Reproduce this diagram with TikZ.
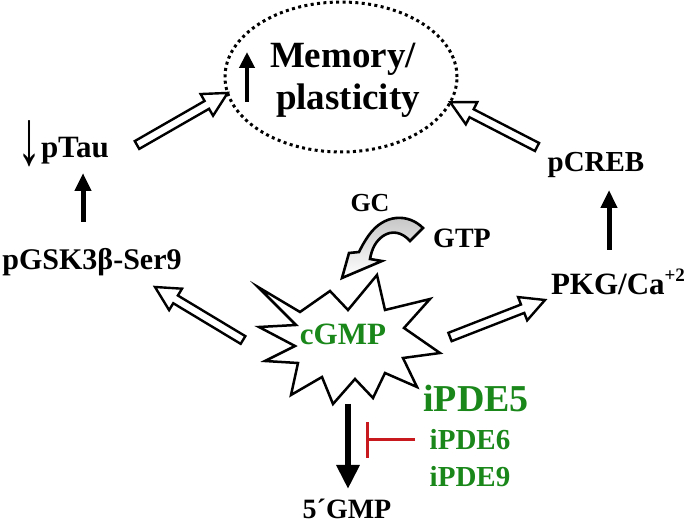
\documentclass[tikz,border=0pt]{standalone}
\usepackage{fontspec}
\setmainfont{Liberation Serif}
\usetikzlibrary{calc,shapes.geometric,arrows.meta}
\definecolor{dgreen}{RGB}{25,135,25}
\definecolor{tred}{RGB}{200,25,30}
\definecolor{agrey}{RGB}{195,195,195}
\tikzset{
  lbl/.style={font=\bfseries\fontsize{#1}{#1}\selectfont, inner sep=0pt, outer sep=0pt},
  glbl/.style={lbl=#1, text=dgreen},
  hollow/.style={draw=black, fill=white, line width=2.4pt, line join=miter},
  blkarrow/.style={line width=#1, -{Triangle[length=18pt,width=16pt]}},
  memell/.style={ellipse, draw, line width=3pt, dash pattern=on 3pt off 3.4pt,
     minimum width=232pt, minimum height=150pt, inner sep=0pt, outer sep=0pt},
  starburst/.style={draw=black, fill=white, line width=2.5pt, line join=miter},
  curvearr/.style={draw=black, line width=2.6pt, line join=miter,
     top color=agrey, middle color=white, bottom color=white},
  inhib/.style={draw=tred, line width=3pt, -{Bar[width=36pt,line width=3pt]}}
}
\newcommand\hollowarr[2]{%
  \coordinate (#1#2h) at ($(#2)!24pt!(#1)$);
  \draw[hollow] ($(#1)!4.5pt!90:(#2)$) -- ($(#1#2h)!4.5pt!90:(#2)$)
     -- ($(#1#2h)!12.5pt!90:(#2)$) -- (#2) -- ($(#1#2h)!12.5pt!-90:(#2)$)
     -- ($(#1#2h)!4.5pt!-90:(#2)$) -- ($(#1)!4.5pt!-90:(#2)$) -- cycle;}
\begin{document}
\begin{tikzpicture}[x=1pt,y=-1pt]
\useasboundingbox[fill=white] (0,0) rectangle (694,526);
% memory ellipse
\node[memell] (mem) at (341,77) {};
\node[lbl=37, anchor=base] (memtxt1) at (343,68) {Memory/};
\node[lbl=37, anchor=base] (memtxt2) at (348,110) {plasticity};
\coordinate (memarrS) at (247,102);
\coordinate (memarrE) at (247,52);
\draw[line width=4.5pt, -{Triangle[length=16pt,width=15pt]}] (memarrS) -- (memarrE);
% left column
\node[lbl=31, anchor=base west] (ptau) at (17,158) {{\fontsize{30}{30}\selectfont\raisebox{-0.22em}{\scalebox{1.6}[2.6]{↓}}}pTau};
\node[lbl=30, anchor=base] (pgsk) at (92,270) {pGSK3β-Ser9};
\coordinate (lupS) at (83,222);
\coordinate (lupE) at (83,173);
\draw[blkarrow=5pt] (lupS) -- (lupE);
% right column
\node[lbl=29, anchor=base] (pcreb) at (596,172) {pCREB};
\node[lbl=31, anchor=base west] (pkg) at (551,295) {PKG/Ca\raisebox{0.42em}{\fontsize{19}{19}\selectfont +2}};
\coordinate (rupS) at (609,250);
\coordinate (rupE) at (609,190);
\draw[blkarrow=5pt] (rupS) -- (rupE);
% upper hollow arrows
\coordinate (tailUL) at (137,145);
\coordinate (tipUL) at (mem.188);
\coordinate (tailUR) at (537,147);
\coordinate (tipUR) at (mem.347);
\hollowarr{tailUL}{tipUL}
\hollowarr{tailUR}{tipUR}
% GC / GTP and curved arrow
\node[lbl=26, anchor=base] (gc) at (370,212) {GC};
\node[lbl=28, anchor=base] (gtp) at (462,248) {GTP};
\draw[curvearr] (423,228) .. controls (408,213) and (384,214) .. (369,235)
   .. controls (364,242) and (361,248) .. (359,252)
   -- (349,253) -- (342,278) -- (382,261) -- (370,259)
   .. controls (372,248) and (376,241) .. (383,236)
   .. controls (392,230) and (402,232) .. (410,241) -- cycle;
% starburst
\draw[starburst] (258,287) -- (300,312) -- (330,291) -- (348,310) -- (377,275)
  -- (385,310) -- (430,299) -- (404,328) -- (440,353) -- (403,358) -- (417,387)
  -- (385,373) -- (373,398) -- (355,379) -- (333,404) -- (322,377) -- (291,395)
  -- (298,363) -- (265,361) -- (295,346) -- (259,327) -- (296,325) -- cycle;
\node[glbl=31, anchor=base] (cgmp) at (343,345) {cGMP};
% lower hollow arrows
\coordinate (tailLL) at (243,340);
\coordinate (tipLL) at (155,287);
\coordinate (tailLR) at (450,337);
\coordinate (tipLR) at (545,300);
\hollowarr{tailLL}{tipLL}
\hollowarr{tailLR}{tipLR}
% degradation
\coordinate (dnS) at (348,404);
\coordinate (dnE) at (348,489);
\draw[line width=6pt, -{Triangle[length=24pt,width=22pt]}] (dnS) -- (dnE);
\node[lbl=28, anchor=base] (gmp5) at (347,519) {5´GMP};
% inhibitors
\node[glbl=38, anchor=base] (ipde5) at (476,412) {iPDE5};
\node[glbl=29, anchor=base] (ipde6) at (470,450) {iPDE6};
\node[glbl=29, anchor=base] (ipde9) at (470,487) {iPDE9};
\coordinate (inhS) at (415,440);
\coordinate (inhE) at (366,440);
\draw[inhib] (inhS) -- (inhE);
\end{tikzpicture}
\end{document}
